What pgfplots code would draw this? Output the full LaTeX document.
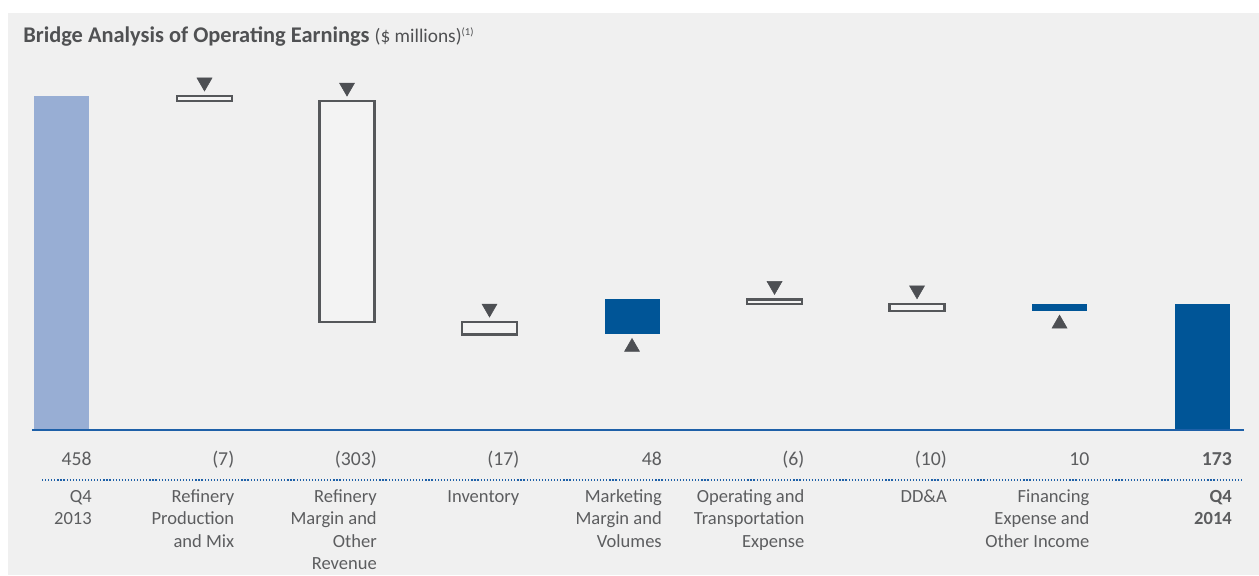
\documentclass[border=0pt]{standalone}
\usepackage{pgfplots}
\pgfplotsset{compat=1.18}
\usepackage{fontspec}
\setmainfont{Carlito}
\definecolor{bg}{RGB}{240,240,240}
\definecolor{boxfill}{RGB}{243,243,243}
\definecolor{lightblue}{RGB}{152,174,212}
\definecolor{darkblue}{RGB}{0,85,151}
\definecolor{outl}{RGB}{85,87,90}
\definecolor{tri}{RGB}{77,79,83}
\definecolor{txt}{RGB}{92,93,95}
\definecolor{ttl}{RGB}{80,81,83}
\definecolor{axisblue}{RGB}{30,96,168}
\newcommand{\valfont}{\fontsize{14.8}{17}\selectfont}
\newcommand{\catfont}{\fontsize{13.9}{16.9}\selectfont}
\newcommand{\cat}[1]{\begin{tabular}[t]{@{}r@{}}#1\end{tabular}}
\begin{document}
\begin{tikzpicture}
\fill[white] (0,0) rectangle (944.25pt,431.25pt);
\fill[bg] (6pt,0) rectangle (944.25pt,421.5pt);
\useasboundingbox (0,0) rectangle (944.25pt,431.25pt);
\node[anchor=base west, inner sep=0, text=ttl, font=\fontsize{16.8}{19}\selectfont] at (17.25pt,399pt)
  {\textbf{Bridge Analysis of Operating Earnings} {\fontsize{14.5}{17}\selectfont(\$ millions)\raisebox{5.5pt}{\fontsize{8}{9}\selectfont(1)}}};
\begin{axis}[at={(24pt,108.75pt)}, anchor=south west, scale only axis,
  width=909pt, height=262.5pt, xmin=-0.2105, xmax=8.2945, ymin=0, ymax=480,
  axis lines=none, clip=false]
% start and end bars
\addplot[ybar, bar width=41.25pt, fill=lightblue, draw=none] coordinates {(0,458)};
\addplot[ybar, bar width=41.25pt, fill=darkblue, draw=none] coordinates {(8,173)};
% decreases (floating, outlined)
\addplot[fill=boxfill, draw=outl, line width=1.6pt] coordinates {(0.807,451) (1.193,451) (1.193,458) (0.807,458)} -- cycle;
\addplot[fill=boxfill, draw=outl, line width=1.6pt] coordinates {(1.807,148) (2.193,148) (2.193,451) (1.807,451)} -- cycle;
\addplot[fill=boxfill, draw=outl, line width=1.6pt] coordinates {(2.807,131) (3.193,131) (3.193,148) (2.807,148)} -- cycle;
\addplot[fill=boxfill, draw=outl, line width=1.6pt] coordinates {(4.807,173) (5.193,173) (5.193,179) (4.807,179)} -- cycle;
\addplot[fill=boxfill, draw=outl, line width=1.6pt] coordinates {(5.807,163) (6.193,163) (6.193,173) (5.807,173)} -- cycle;
% increases
\addplot[fill=darkblue, draw=none] coordinates {(3.807,131) (4.193,131) (4.193,179) (3.807,179)} -- cycle;
\addplot[fill=darkblue, draw=none] coordinates {(6.807,163) (7.193,163) (7.193,173) (6.807,173)} -- cycle;
% arrows
\addplot[only marks, mark=triangle*, mark size=6.5pt, color=tri, mark options={yshift=10.3pt, rotate=180, draw=tri, fill=tri}]
  coordinates {(1,458) (2,451) (3,148) (5,179) (6,173)};
\addplot[only marks, mark=triangle*, mark size=6.5pt, color=tri, mark options={yshift=-9.5pt, draw=tri, fill=tri}]
  coordinates {(4,131) (7,163)};
\draw[axisblue, line width=1.5pt] (rel axis cs:0,0) -- (rel axis cs:1,0);
% values
\begin{scope}[every node/.style={anchor=base east, inner sep=0, text=txt, font=\valfont, xshift=22.5pt, yshift=-26.25pt}]
\node at (axis cs:0,0) {458};
\node at (axis cs:1,0) {(7)};
\node at (axis cs:2,0) {(303)};
\node at (axis cs:3,0) {(17)};
\node at (axis cs:4,0) {48};
\node at (axis cs:5,0) {(6)};
\node at (axis cs:6,0) {(10)};
\node at (axis cs:7,0) {10};
\node at (axis cs:8,0) {\textbf{173}};
\end{scope}
\begin{scope}[every node/.style={anchor=base east, inner sep=0, text=txt, font=\catfont, xshift=22.5pt, yshift=-54pt}]
\node at (axis cs:0,0) {\cat{Q4\\2013}};
\node at (axis cs:1,0) {\cat{Refinery\\Production\\and Mix}};
\node at (axis cs:2,0) {\cat{Refinery\\Margin and\\Other\\Revenue}};
\node at (axis cs:3,0) {\cat{Inventory}};
\node at (axis cs:4,0) {\cat{Marketing\\Margin and\\Volumes}};
\node at (axis cs:5,0) {\cat{Operating and\\Transportation\\Expense}};
\node at (axis cs:6,0) {\cat{DD\&A}};
\node at (axis cs:7,0) {\cat{Financing\\Expense and\\Other Income}};
\node at (axis cs:8,0) {\cat{\textbf{Q4}\\\textbf{2014}}};
\end{scope}
\end{axis}
\draw[axisblue, line width=1.1pt, dash pattern=on 0.9pt off 1.4pt] (31.5pt,71.25pt) -- (932.25pt,71.25pt);
\end{tikzpicture}
\end{document}
